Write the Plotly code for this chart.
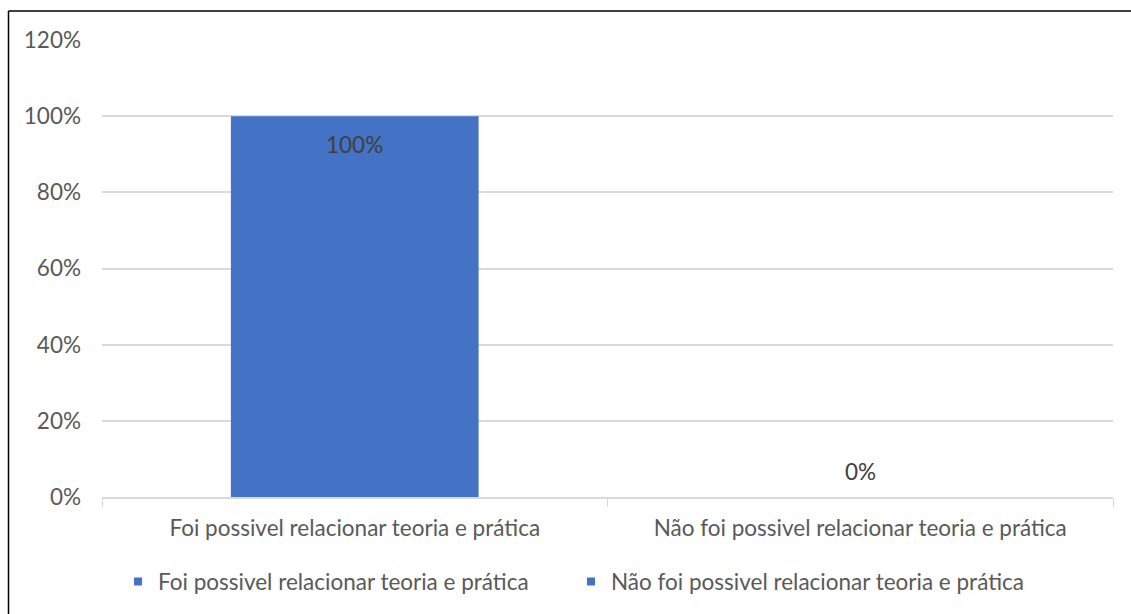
import plotly.graph_objects as go

categories = ["Foi possivel relacionar teoria e prática",
              "Não foi possivel relacionar teoria e prática"]
values = [1.0, 0.0]
labels = ["100%", "0%"]
label_shift = [-28, 26]
tick_vals = [0, 0.2, 0.4, 0.6, 0.8, 1.0, 1.2]
tick_text = ["0%", "20%", "40%", "60%", "80%", "100%", "120%"]

BLUE = "#4472C4"
FONT = "Lato"
FS = 22.5

fig = go.Figure()
fig.add_trace(go.Bar(x=categories, y=values,
                     marker=dict(color=BLUE, line=dict(width=0)),
                     width=0.49, showlegend=False))
for c in categories:
    fig.add_trace(go.Scatter(x=[None], y=[None], mode="markers", name=c,
                             marker=dict(symbol="square", size=8, color=BLUE)))

W, H = 1131, 614
L, R, T, B = 102, 18, 40, 116
pw, ph = W - L - R, H - T - B
bx = (8.5 - L) / pw
by = (H - B - 11) / ph

annotations = [dict(x=c, y=v, text=t, showarrow=False, yshift=s,
                    xref="x", yref="y",
                    font=dict(family=FONT, size=FS, color="#404040"))
               for c, v, t, s in zip(categories, values, labels, label_shift)]

fig.update_layout(
    width=W, height=H,
    margin=dict(l=L, r=R, t=T, b=B),
    paper_bgcolor="white", plot_bgcolor="white",
    font=dict(family=FONT, size=FS, color="#595959"),
    xaxis=dict(type="category", tickson="boundaries", ticks="outside",
               ticklen=8, tickcolor="#d9d9d9", showline=True,
               linecolor="#d9d9d9", linewidth=1.5, showgrid=False,
               tickfont=dict(size=FS, color="#595959"), ticklabelstandoff=10),
    yaxis=dict(range=[0, 1.2], tickvals=tick_vals, ticktext=tick_text,
               showgrid=True, gridcolor="#d9d9d9", gridwidth=1.5,
               zeroline=False, showline=False, ticklabelstandoff=20,
               tickfont=dict(size=FS, color="#595959")),
    legend=dict(orientation="h", x=(118 - L) / pw, xanchor="left",
                y=-0.183, yanchor="middle",
                font=dict(size=FS, color="#595959"),
                entrywidth=452 - 44, entrywidthmode="pixels"),
    annotations=annotations,
    shapes=[
        dict(type="line", xref="paper", yref="paper", x0=bx, x1=bx,
             y0=by, y1=-1, line=dict(color="black", width=1.5)),
        dict(type="line", xref="paper", yref="paper", x0=bx, x1=1.5,
             y0=by, y1=by, line=dict(color="black", width=1.5)),
    ],
)

fig.write_html("out.html")
